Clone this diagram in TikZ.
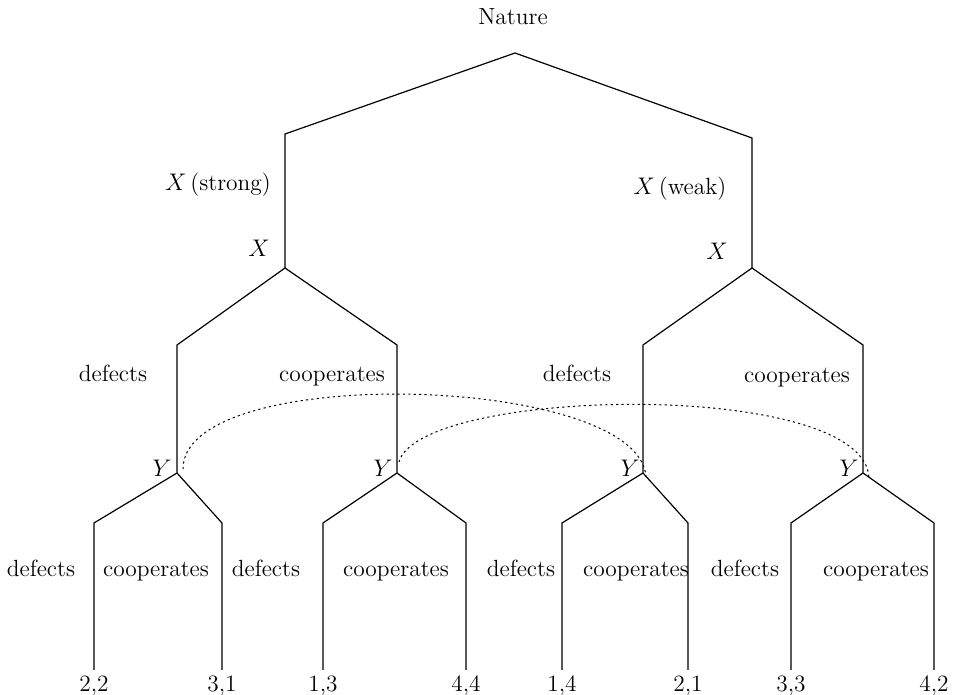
\documentclass[tikz,border=0pt]{standalone}

\tikzset{
  every node/.style={font=\fontsize{11.7}{14}\selectfont, inner sep=0pt},
  move/.style={line width=0.6pt},
  lbl/.style={anchor=base},
  infoset/.style={line width=0.5pt, dash pattern=on 1.1pt off 1.6pt}
}

\begin{document}
\begin{tikzpicture}[x=0.5pt, y=-0.5pt]
  \useasboundingbox (0,0) rectangle (955,695);

  % decision points
  \coordinate (root) at (515,53);
  \coordinate (cs) at (285,134);
  \coordinate (cw) at (752,138);
  \coordinate (xs) at (285,268);
  \coordinate (xw) at (752,268);
  \coordinate (sd) at (177,345);
  \coordinate (sc) at (397,345);
  \coordinate (wd) at (643,345);
  \coordinate (wc) at (863,345);
  \coordinate (y1) at (177,473);
  \coordinate (y2) at (397,473);
  \coordinate (y3) at (643,473);
  \coordinate (y4) at (863,473);

  % nature moves
  \draw[move] (xs) -- (cs) -- (root) -- (cw) -- (xw);

  % X moves
  \draw[move] (y1) -- (sd) -- (xs) -- (sc) -- (y2);
  \draw[move] (y3) -- (wd) -- (xw) -- (wc) -- (y4);

  % Y moves and payoffs
  \foreach \n/\y/\x/\p in {1/y1/94/{2,2}, 2/y1/222/{3,1}, 3/y2/323/{1,3}, 4/y2/466/{4,4},
                           5/y3/562/{1,4}, 6/y3/688/{2,1}, 7/y4/791/{3,3}, 8/y4/934/{4,2}} {
    \coordinate (k\n) at (\x,523);
    \coordinate (leaf\n) at (\x,670);
    \draw[move] (\y) -- (k\n) -- (leaf\n);
    \node[lbl] (pay\n) at (\x,692) {\p};
  }

  % information set of Y
  \draw[infoset] ([shift={(6,-4)}]y1) .. controls +(0,-107) and +(-6,-103) .. ([shift={(3,4)}]y3);
  \draw[infoset] ([shift={(2,-11)}]y2) .. controls +(20,-75) and +(-4,-100) .. ([shift={(6,5)}]y4);

  % labels
  \node[lbl] (nature) at (513,25) {Nature};
  \node[lbl] (strong) at (218,191) {$X$\,(strong)};
  \node[lbl] (weak) at (680,195) {$X$\,(weak)};
  \node[lbl] (xsl) at (259,257) {$X$};
  \node[lbl] (xwl) at (717,260) {$X$};

  \node[lbl] (sdl) at (113,382) {defects};
  \node[lbl] (scl) at (332,382) {cooperates};
  \node[lbl] (wdl) at (577,382) {defects};
  \node[lbl] (wcl) at (797,383) {cooperates};

  \node[lbl] (y1l) at (162,477) {$Y$};
  \node[lbl] (y2l) at (383,477) {$Y$};
  \node[lbl] (y3l) at (630,477) {$Y$};
  \node[lbl] (y4l) at (849,477) {$Y$};

  \node[lbl] (d1) at (41,577) {defects};
  \node[lbl] (c1) at (156,577) {cooperates};
  \node[lbl] (d2) at (266,577) {defects};
  \node[lbl] (c2) at (396,577) {cooperates};
  \node[lbl] (d3) at (521,577) {defects};
  \node[lbl] (c3) at (636,577) {cooperates};
  \node[lbl] (d4) at (745,577) {defects};
  \node[lbl] (c4) at (876,577) {cooperates};
\end{tikzpicture}
\end{document}
